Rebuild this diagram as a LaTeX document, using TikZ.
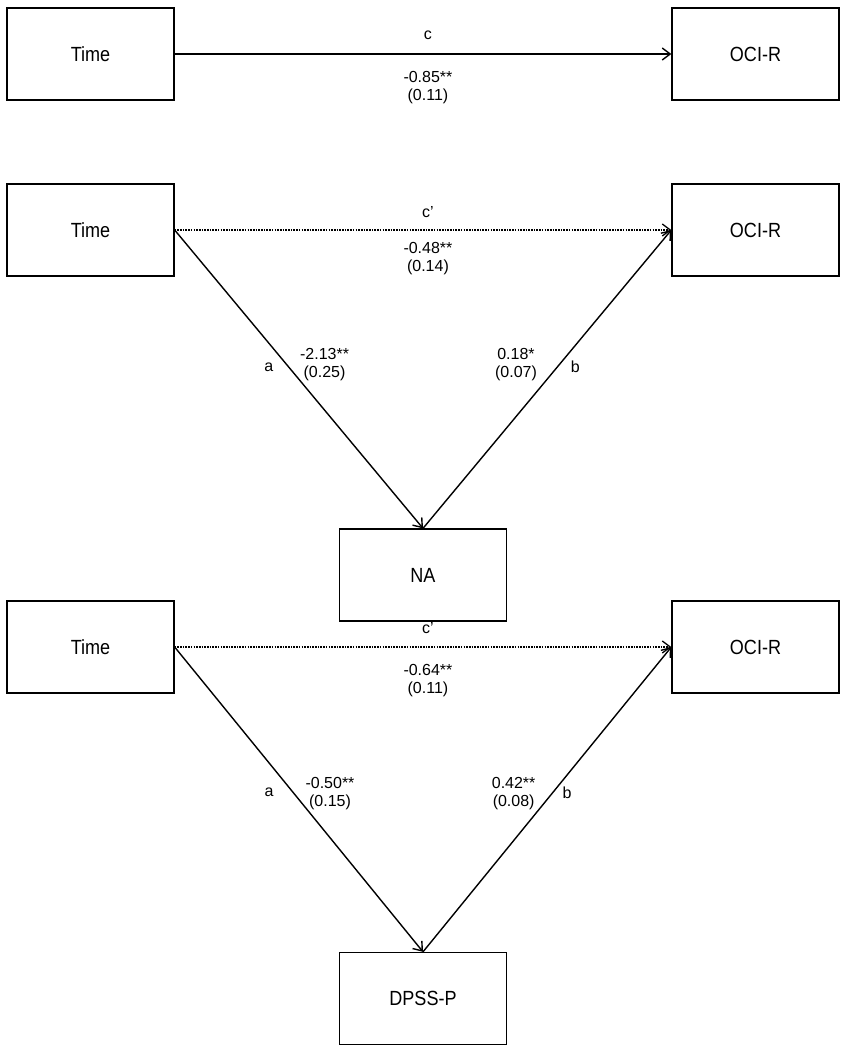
\documentclass[tikz,border=0pt]{standalone}
\usepackage{fontspec}
\setmainfont{Liberation Sans}
\newfontfamily\boxfont[FakeStretch=0.88]{Liberation Sans}
\usetikzlibrary{arrows.meta}

\begin{document}
\begin{tikzpicture}[x=1pt, y=-1pt, >={Straight Barb[length=8pt, width=12pt]},
        var/.style={draw, line width=1.3pt, minimum width=167pt, minimum height=92pt, inner sep=0pt, font=\boxfont\fontsize{20.5}{22}\selectfont},
        direct/.style={->, line width=1.4pt},
        indirect/.style={->, line width=1.3pt, dash pattern=on 1.6pt off 1.1pt},
        coef/.style={inner sep=0pt, align=center, font=\fontsize{16}{18}\selectfont}]

    \useasboundingbox (0,0) rectangle (846,1050);

    % Total effect
    \node[var] (time1) at (90.5, 54) {Time};
    \node[var] (oci1) at (755.5, 54) {OCI-R};
    \draw[direct] (time1) -- (oci1)
        node[coef, pos=0.51, above=14pt] (c1) {c}
        node[coef, pos=0.51, below=17pt] (c1val) {-0.85**\\(0.11)};

    % Mediation through NA
    \node[var] (time2) at (90.5, 230) {Time};
    \node[var] (oci2) at (755.5, 230) {OCI-R};
    \node[var] (na) at (423, 575) {NA};
    \draw[indirect] (time2) -- (oci2)
        node[coef, pos=0.51, above=12pt] (c2) {c’}
        node[coef, pos=0.51, below=12pt] (c2val) {-0.48**\\(0.14)};
    \draw[direct] (time2.east) -- (na.north)
        node[coef, pos=0.46, left=15pt] (a2) {a}
        node[coef, pos=0.45, right=13pt] (a2val) {-2.13**\\(0.25)};
    \draw[direct] (na.north) -- (oci2.west)
        node[coef, pos=0.54, right=13pt] (b2) {b}
        node[coef, pos=0.55, left=22pt] (b2val) {0.18*\\(0.07)};

    % Mediation through DPSS-P
    \node[var] (time3) at (90.5, 647) {Time};
    \node[var] (oci3) at (755.5, 647) {OCI-R};
    \node[var] (dpss) at (423, 998.5) {DPSS-P};
    \draw[indirect] (time3) -- (oci3)
        node[coef, pos=0.51, above=13pt] (c3) {c’}
        node[coef, pos=0.51, below=17pt] (c3val) {-0.64**\\(0.11)};
    \draw[direct] (time3.east) -- (dpss.north)
        node[coef, pos=0.477, left=19pt] (a3) {a}
        node[coef, pos=0.48, right=11pt] (a3val) {-0.50**\\(0.15)};
    \draw[direct] (dpss.north) -- (oci3.west)
        node[coef, pos=0.523, right=9pt] (b3) {b}
        node[coef, pos=0.52, left=16pt] (b3val) {0.42**\\(0.08)};
\end{tikzpicture}
\end{document}
